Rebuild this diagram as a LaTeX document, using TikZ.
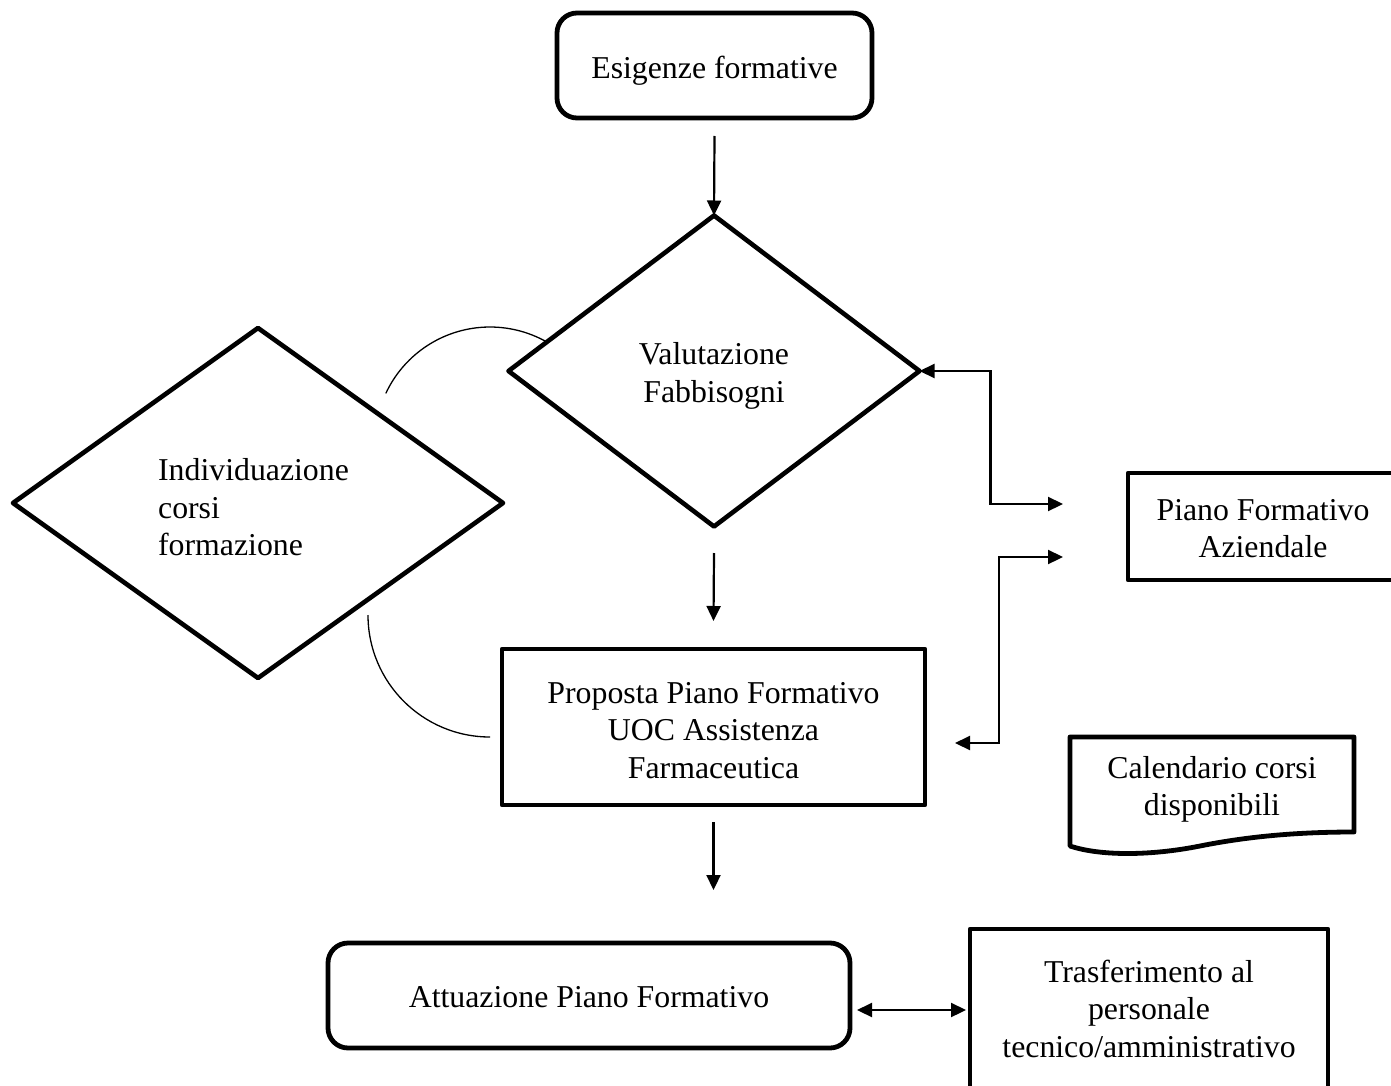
\documentclass[tikz,border=0pt]{standalone}
\usepackage{fontspec}
\setmainfont{Liberation Serif}
\usetikzlibrary{shapes.geometric,arrows.meta,calc}

\begin{document}
\begin{tikzpicture}[x=1pt,y=1pt,
  every node/.style={inner sep=0pt, outer sep=0pt},
  every label/.style={font=\fontsize{31.8}{37.5}\selectfont, align=center, inner sep=0pt},
  box/.style={draw, line width=4.8pt, line join=round, rectangle},
  roundbox/.style={box, rounded corners=20pt},
  decision/.style={draw, line width=4.6pt, line join=round, diamond},
  txt/.style 2 args={label={[yshift=#1]center:{#2}}},
  arr/.style={line width=2.2pt, -{Triangle[length=15pt,width=14pt]}},
  arrtwo/.style={line width=2.2pt, {Triangle[length=15pt,width=14pt]}-{Triangle[length=15pt,width=14pt]}},
  link/.style={line width=1.3pt}
]
\clip (0,0) rectangle (1391,-1086);
\fill[white] (0,0) rectangle (1391,-1086);

% process steps
\node[roundbox, minimum width=315pt, minimum height=105pt, txt={-5pt}{Esigenze formative}] (esig) at (714.5,-65.5) {};
\node[decision, minimum width=411pt, minimum height=311pt, txt={-5pt}{Valutazione\\Fabbisogni}] (val) at (714,-371) {};
\node[decision, minimum width=490pt, minimum height=350pt,
      label={[yshift=-4.5pt, xshift=-4.5pt, align=left]center:{Individuazione\\corsi\\formazione}}] (ind) at (258,-503) {};
\node[box, minimum width=423pt, minimum height=156pt, txt={-3.5pt}{Proposta Piano Formativo\\UOC Assistenza\\Farmaceutica}] (prop) at (713.5,-727) {};
\node[roundbox, minimum width=522pt, minimum height=105pt, txt={-2pt}{Attuazione Piano Formativo}] (att) at (589,-995.5) {};
\node[box, minimum width=358pt, minimum height=159pt, txt={0pt}{Trasferimento al\\personale\\tecnico/amministrativo}] (tras) at (1149,-1008.5) {};
\node[box, minimum width=270pt, minimum height=107pt, txt={-2pt}{Piano Formativo\\Aziendale}] (paz) at (1263,-526.5) {};

% document: course calendar
\draw[line width=4.8pt, line join=round] (1070,-737) -- (1354,-737) -- (1354,-832)
  .. controls (1300,-832) and (1250,-836) .. (1200,-846)
  .. controls (1150,-856) and (1100,-856) .. (1070,-846) -- cycle;
\node[txt={-3pt}{Calendario corsi\\disponibili}] (cal) at (1212,-786.5) {};

% main flow
\draw[arr] ($(esig.south)+(0,-18)$) -- (val.north);
\draw[arr] ($(val.south)+(0,-26.5)$) -- ($(prop.north)+(0,28)$);
\draw[arr] ($(prop.south)+(0,-17)$) -- ($(prop.south |- att.north)+(0,53)$);

% exchanges with the company plan
\coordinate (pazA) at ($(paz.west)+(-65,22.5)$);
\coordinate (pazB) at ($(paz.west)+(-65,-30.5)$);
\draw[arrtwo] (val.east) -- ++(71,0) |- (pazA);
\draw[arrtwo] ($(prop.east)+(30,-16)$) -- ++(44,0) |- (pazB);

% implementation and transfer
\draw[arrtwo] ($(att.east)+(7,-14.5)$) -- ($(tras.west)+(-4,-1.5)$);

% links to the course selection
\draw[link] (385.8,-393.4) arc[start angle=155, end angle=60, radius=115];
\draw[link] (368,-615) arc[start angle=180, end angle=270, radius=122];
\end{tikzpicture}
\end{document}
